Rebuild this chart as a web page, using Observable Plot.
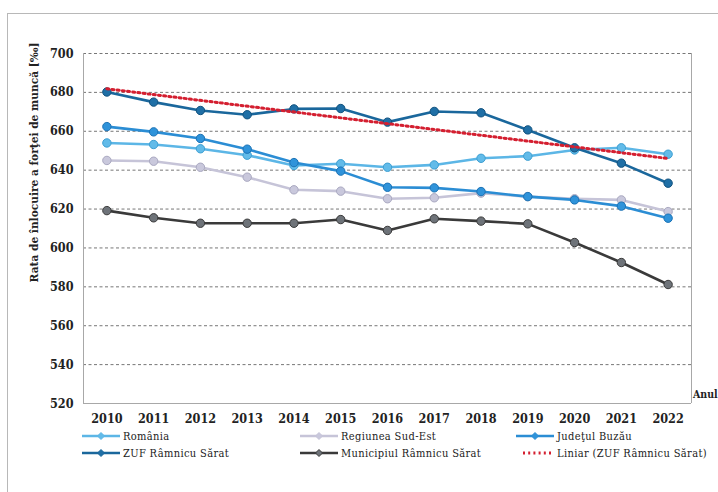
<!DOCTYPE html>
<html><head><meta charset="utf-8">
<script src="https://cdn.jsdelivr.net/npm/d3@7"></script>
<script src="https://cdn.jsdelivr.net/npm/@observablehq/plot@0.6"></script>
<style>
body{margin:0;background:#fff;width:718px;height:492px;overflow:hidden;position:relative;}
#frame{position:absolute;left:7px;top:13px;width:800px;height:600px;border:1px solid #b8b8b8;}
#chart{position:absolute;left:0;top:0;}
.item{position:absolute;display:flex;align-items:center;white-space:nowrap;font-family:"DejaVu Serif Condensed",serif;font-size:11px;letter-spacing:0.35px;color:#222;height:14px;}
.item svg{margin-right:3px;}
</style></head><body>
<div id="frame"></div>
<div id="chart"></div>
<div id="legend"></div>
<script>
const years = [2010, 2011, 2012, 2013, 2014, 2015, 2016, 2017, 2018, 2019, 2020, 2021, 2022];
const yTicks = [520, 540, 560, 580, 600, 620, 640, 660, 680, 700];
const romania   = [654.0, 653.2, 651.0, 647.7, 642.4, 643.3, 641.5, 642.7, 646.1, 647.2, 650.4, 651.5, 648.2];
const sudEst    = [645.0, 644.6, 641.5, 636.4, 629.9, 629.2, 625.3, 625.8, 628.2, 626.4, 625.3, 624.7, 618.7];
const buzau     = [662.4, 659.7, 656.3, 650.8, 643.9, 639.5, 631.2, 630.9, 629.0, 626.4, 624.7, 621.5, 615.3];
const zuf       = [680.2, 675.0, 670.7, 668.5, 671.5, 671.7, 664.7, 670.2, 669.5, 660.7, 651.5, 643.6, 633.3];
const municipiu = [619.2, 615.5, 612.7, 612.7, 612.7, 614.6, 609.0, 615.0, 613.8, 612.4, 602.8, 592.5, 581.2];
const names = ["România", "Regiunea Sud-Est", "Judeţul Buzău", "ZUF Râmnicu Sărat", "Municipiul Râmnicu Sărat", "Liniar (ZUF Râmnicu Sărat)"];
const yTitle = "Rata de înlocuire a forţei de muncă [‰]";
const xTitle = "Anul";

const series = [
  {name: names[1], values: sudEst,    stroke: "#c6c4d8", fill: "#c9c8dc", dotStroke: "#a9a8c0"},
  {name: names[0], values: romania,   stroke: "#5cb6e6", fill: "#62bbe9", dotStroke: "#3d9fd2"},
  {name: names[2], values: buzau,     stroke: "#2b8dd4", fill: "#2f93da", dotStroke: "#1b72b5"},
  {name: names[4], values: municipiu, stroke: "#3a3a3a", fill: "#6e7379", dotStroke: "#3a3a3a"},
  {name: names[3], values: zuf,       stroke: "#1a679c", fill: "#1f6fa6", dotStroke: "#12527e"}
];
const rows = s => years.map((y, i) => ({year: y, value: s.values[i]}));

const marks = [
  Plot.gridY(yTicks, {stroke: "#777", strokeOpacity: 1, strokeDasharray: "3,2.5"}),
  Plot.ruleX([2009.5, 2022.5], {stroke: "#a8a8a8"}),
  Plot.ruleY([520], {stroke: "#a8a8a8"})
];
for (const s of series) {
  const d = rows(s);
  marks.push(Plot.line(d, {x: "year", y: "value", stroke: s.stroke, strokeWidth: 2.6}));
  marks.push(Plot.dot(d, {x: "year", y: "value", r: 4.2, fill: s.fill, stroke: s.dotStroke, strokeWidth: 1}));
}
marks.push(Plot.linearRegressionY(rows(series[4]), {x: "year", y: "value", ci: 0, stroke: "#d41f30", strokeWidth: 3, strokeDasharray: "2,3.2"}));
marks.push(Plot.axisY({ticks: yTicks, tickSize: 0, tickPadding: 10, label: null}));
marks.push(Plot.axisX({ticks: years, tickFormat: d => String(d), tickSize: 0, tickPadding: 11, label: null}));
marks.push(Plot.text([yTitle], {frameAnchor: "top-left", dx: -54, dy: 109, rotate: -90, textAnchor: "middle", fontSize: 11.8, fontWeight: "bold"}));
marks.push(Plot.text([xTitle], {frameAnchor: "bottom-right", dx: 1.5, dy: -6, textAnchor: "start", lineAnchor: "bottom", fontSize: 10.5, fontWeight: "bold"}));

const chart = Plot.plot({
  width: 718, height: 430,
  marginLeft: 83, marginRight: 27, marginTop: 53, marginBottom: 27,
  x: {type: "linear", domain: [2009.5, 2022.5]},
  y: {domain: [520, 700]},
  style: {fontFamily: "'DejaVu Serif Condensed', serif", fontSize: "12.5px", fontWeight: "bold", color: "#222", background: "transparent", overflow: "visible"},
  marks
});
document.getElementById("chart").appendChild(chart);

// legend
const legendItems = [
  {name: names[0], stroke: "#5cb6e6", fill: "#62bbe9", left: 82, top: 429},
  {name: names[1], stroke: "#c6c4d8", fill: "#c9c8dc", left: 300, top: 429},
  {name: names[2], stroke: "#2b8dd4", fill: "#2f93da", left: 516, top: 429},
  {name: names[3], stroke: "#1a679c", fill: "#1f6fa6", left: 82, top: 446},
  {name: names[4], stroke: "#3a3a3a", fill: "#6e7379", left: 300, top: 446},
  {name: names[5], stroke: "#d41f30", fill: null, left: 522, top: 446, dotted: true}
];
const leg = document.getElementById("legend");
for (const it of legendItems) {
  const div = document.createElement("div");
  div.className = "item";
  div.style.left = it.left + "px";
  div.style.top = it.top + "px";
  const w = it.dotted ? 32 : 38;
  let svg = `<svg width="${w}" height="12">`;
  if (it.dotted) svg += `<line x1="1" y1="6" x2="${w}" y2="6" stroke="${it.stroke}" stroke-width="3" stroke-dasharray="2,3.2"/>`;
  else svg += `<line x1="0" y1="6" x2="${w}" y2="6" stroke="${it.stroke}" stroke-width="2.6"/><path d="M${w/2} 2.5 L${w/2+3.5} 6 L${w/2} 9.5 L${w/2-3.5} 6 Z" fill="${it.fill}" stroke="${it.stroke}" stroke-width="1"/>`;
  svg += `</svg>`;
  div.innerHTML = svg + `<span>${it.name}</span>`;
  leg.appendChild(div);
}
</script>
</body></html>
